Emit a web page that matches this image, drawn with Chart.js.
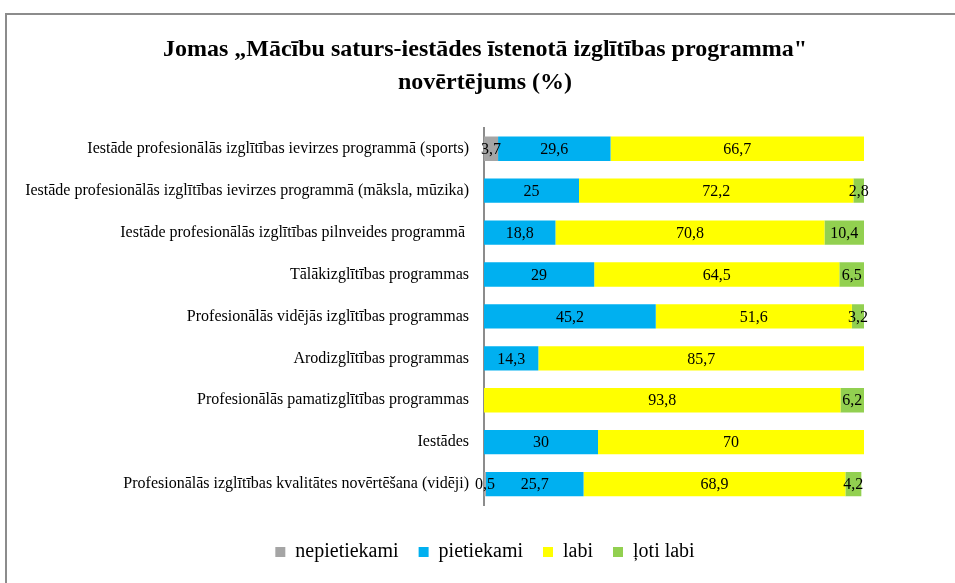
<!DOCTYPE html>
<html>
<head>
<meta charset="utf-8">
<script src="https://cdn.jsdelivr.net/npm/chart.js@4/dist/chart.umd.min.js"></script>
<style>
  html, body { margin: 0; padding: 0; background: #fff; }
  body { width: 955px; height: 583px; position: relative; overflow: hidden; }
  .frame { position: absolute; left: 5px; top: 13px; width: 970px; height: 600px; border: 2px solid #8c8c8c; box-sizing: border-box; }
  .wrap { position: absolute; left: 0; top: 0; width: 955px; height: 583px; }
</style>
</head>
<body>
<div class="frame"></div>
<div class="wrap"><canvas id="chart" width="955" height="583"></canvas></div>
<script>
// categories (top to bottom)
const categories = [
  'Iestāde profesionālās izglītības ievirzes programmā (sports)',
  'Iestāde profesionālās izglītības ievirzes programmā (māksla, mūzika)',
  'Iestāde profesionālās izglītības pilnveides programmā ',
  'Tālākizglītības programmas',
  'Profesionālās vidējās izglītības programmas',
  'Arodizglītības programmas',
  'Profesionālās pamatizglītības programmas',
  'Iestādes',
  'Profesionālās izglītības kvalitātes novērtēšana (vidēji)'
];

const nepietiekami = [3.7, 0, 0, 0, 0, 0, 0, 0, 0.5];
const pietiekami   = [29.6, 25, 18.8, 29, 45.2, 14.3, 0, 30, 25.7];
const labi         = [66.7, 72.2, 70.8, 64.5, 51.6, 85.7, 93.8, 70, 68.9];
const lotiLabi     = [0, 2.8, 10.4, 6.5, 3.2, 0, 6.2, 0, 4.2];

const seriesNames = ['nepietiekami', 'pietiekami', 'labi', 'ļoti labi'];
const seriesColors = ['#a5a5a5', '#00b0f0', '#ffff00', '#92d050'];

const serif = "'Liberation Serif', 'Times New Roman', serif";

// draws the numbers in the middle of each bar segment
const barLabels = {
  id: 'barLabels',
  afterDatasetsDraw(chart) {
    const ctx = chart.ctx;
    ctx.save();
    ctx.font = '16px ' + serif;
    ctx.fillStyle = '#000';
    ctx.textAlign = 'center';
    ctx.textBaseline = 'middle';
    chart.data.datasets.forEach((ds, i) => {
      const meta = chart.getDatasetMeta(i);
      meta.data.forEach((bar, j) => {
        const v = ds.data[j];
        if (!v) return;
        const x = (bar.x + bar.base) / 2;
        ctx.fillText(String(v).replace('.', ','), x, bar.y + 1);
      });
    });
    ctx.restore();
  }
};

const allSeries = [nepietiekami, pietiekami, labi, lotiLabi];

new Chart(document.getElementById('chart'), {
  type: 'bar',
  data: {
    labels: categories,
    datasets: allSeries.map((d, i) => ({
      label: seriesNames[i],
      data: d,
      backgroundColor: seriesColors[i],
      borderWidth: 0,
      categoryPercentage: 1,
      barPercentage: 0.58
    }))
  },
  options: {
    indexAxis: 'y',
    responsive: false,
    animation: false,
    devicePixelRatio: 1,
    layout: {
      padding: { left: 106, right: 91, top: 0, bottom: 11 }
    },
    scales: {
      x: {
        stacked: true,
        min: 0,
        max: 100,
        grid: { display: false },
        border: { display: false },
        ticks: { display: false },
        afterFit(scale) { scale.height = 17; }
      },
      y: {
        stacked: true,
        grid: { display: false },
        border: { display: true, color: '#8c8c8c', width: 2 },
        ticks: {
          color: '#000',
          padding: 7,
          font: { family: serif, size: 16 }
        },
        afterFit(scale) {
          scale.width = 378;
          // long labels run further left than the axis box, so don't clip them
          scale._computeLabelArea = () => undefined;
        }
      }
    },
    plugins: {
      title: {
        display: true,
        text: ['Jomas „Mācību saturs-iestādes īstenotā izglītības programma"', 'novērtējums (%)'],
        color: '#000',
        font: { family: serif, size: 24, weight: 'bold', lineHeight: 1.35 },
        padding: { top: 34, bottom: 29 }
      },
      legend: {
        position: 'bottom',
        labels: {
          color: '#000',
          boxWidth: 10,
          boxHeight: 10,
          padding: 20,
          font: { family: serif, size: 20 }
        }
      },
      tooltip: { enabled: false }
    }
  },
  plugins: [barLabels]
});
</script>
</body>
</html>
